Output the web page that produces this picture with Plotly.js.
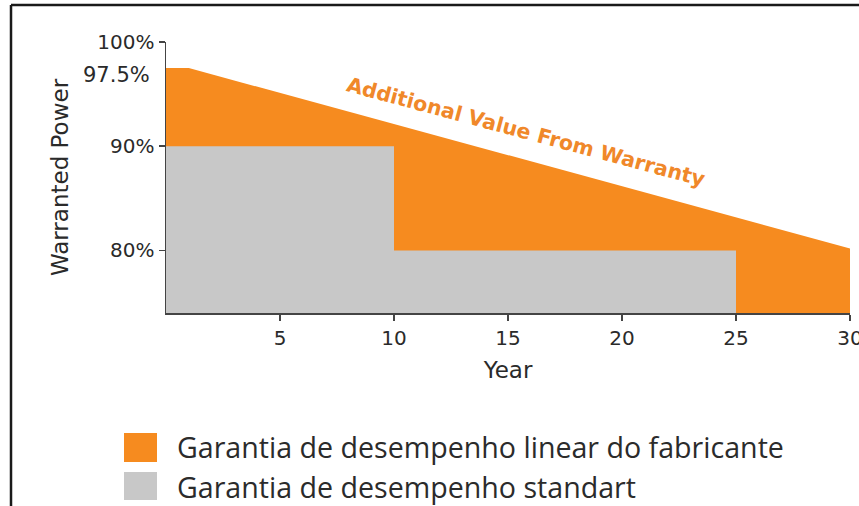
<!DOCTYPE html>
<html>
<head>
<meta charset="utf-8">
<script src="https://cdn.plot.ly/plotly-3.0.1.min.js"></script>
<style>html,body{margin:0;padding:0;background:#fff;}#chart{width:859px;height:506px;}</style>
</head>
<body>
<div id="chart"></div>
<script>
// ---- data ----
const seriesNames = ["Garantia de desempenho linear do fabricante", "Garantia de desempenho standart"];
const linearYears = [0, 1, 30];
const linearPower = [97.5, 97.5, 80.2];
const standardYears = [0, 10, 25];
const standardPower = [90, 80, 0];
const xTickVals = [5, 10, 15, 20, 25, 30];
const yTickVals = [80, 90, 100];
const yTickText = ["80%", "90%", "100%"];
const extraLabelVal = 97.5;
const extraLabelText = "97.5%";
const annotationText = "Additional Value From Warranty";

const W = 859, H = 506;
const M = {l: 166, r: 9, t: 42, b: 193};
const pw = W - M.l - M.r, ph = H - M.t - M.b;
const px = x => (x - M.l) / pw;
const py = y => (H - M.b - y) / ph;

const orange = "#F68B1F";
const gray = "#C8C8C8";
const txt = "#2a2a2a";
const FONT = "DejaVu Sans, Arial, sans-serif";
const LFONT = "Open Sans, sans-serif";

const traces = [
  {x: linearYears, y: linearPower, type: "scatter", mode: "lines", fill: "tozeroy",
   fillcolor: orange, line: {color: orange, width: 0}, name: seriesNames[0], hoverinfo: "skip"},
  {x: standardYears, y: standardPower, type: "scatter", mode: "lines", fill: "tozeroy",
   line: {shape: "hv", color: gray, width: 0}, fillcolor: gray, name: seriesNames[1], hoverinfo: "skip"}
];

const shapes = [
  // frame
  {type: "line", xref: "paper", yref: "paper", x0: px(11), x1: px(11), y0: py(5), y1: py(506), line: {color: "#1a1a1a", width: 2.5}},
  {type: "line", xref: "paper", yref: "paper", x0: px(11), x1: px(859), y0: py(5), y1: py(5), line: {color: "#1a1a1a", width: 2.5}},
  // legend boxes
  {type: "rect", xref: "paper", yref: "paper", x0: px(124), x1: px(157), y0: py(433), y1: py(462), fillcolor: orange, line: {width: 0}},
  {type: "rect", xref: "paper", yref: "paper", x0: px(124), x1: px(157), y0: py(472), y1: py(500), fillcolor: gray, line: {width: 0}}
];

const annotations = [
  {xref: "paper", yref: "y", x: px(152), y: extraLabelVal, yshift: -7, xanchor: "right", yanchor: "middle",
   text: extraLabelText, showarrow: false, font: {family: FONT, size: 21, color: txt}},
  {xref: "x", yref: "y", x: 15.8, y: 91.4, text: "<b>" + annotationText + "</b>", textangle: 15,
   showarrow: false, font: {family: FONT, size: 20.5, color: "#F0882A"}},
  {xref: "paper", yref: "paper", x: px(175), y: py(446), xanchor: "left", yanchor: "middle",
   text: seriesNames[0], showarrow: false, font: {family: LFONT, size: 28.6, color: "#2b2b2b"}},
  {xref: "paper", yref: "paper", x: px(175), y: py(486), xanchor: "left", yanchor: "middle",
   text: seriesNames[1], showarrow: false, font: {family: LFONT, size: 28.6, color: "#2b2b2b"}}
];

const layout = {
  width: W, height: H,
  margin: M,
  paper_bgcolor: "#fff", plot_bgcolor: "#fff",
  showlegend: false,
  xaxis: {range: [0, 30], tickvals: xTickVals, showgrid: false, zeroline: false, ticklabeloverflow: "allow",
    showline: true, linecolor: "#444", linewidth: 1.5, ticks: "outside", ticklen: 6, tickcolor: "#444", tickwidth: 1.5,
    tickfont: {family: FONT, size: 20, color: txt},
    title: {text: "Year", font: {family: FONT, size: 23, color: txt}, standoff: 13}},
  yaxis: {range: [74, 100], tickvals: yTickVals, ticktext: yTickText, showgrid: false, zeroline: false,
    showline: true, linecolor: "#444", linewidth: 1.5, ticks: "outside", ticklen: 6, tickcolor: "#444", tickwidth: 1.5,
    tickfont: {family: FONT, size: 20, color: txt},
    title: {text: "Warranted Power", font: {family: FONT, size: 23, color: txt}, standoff: 22}},
  shapes: shapes,
  annotations: annotations
};

Plotly.newPlot("chart", traces, layout, {displayModeBar: false, staticPlot: true});
</script>
</body>
</html>
